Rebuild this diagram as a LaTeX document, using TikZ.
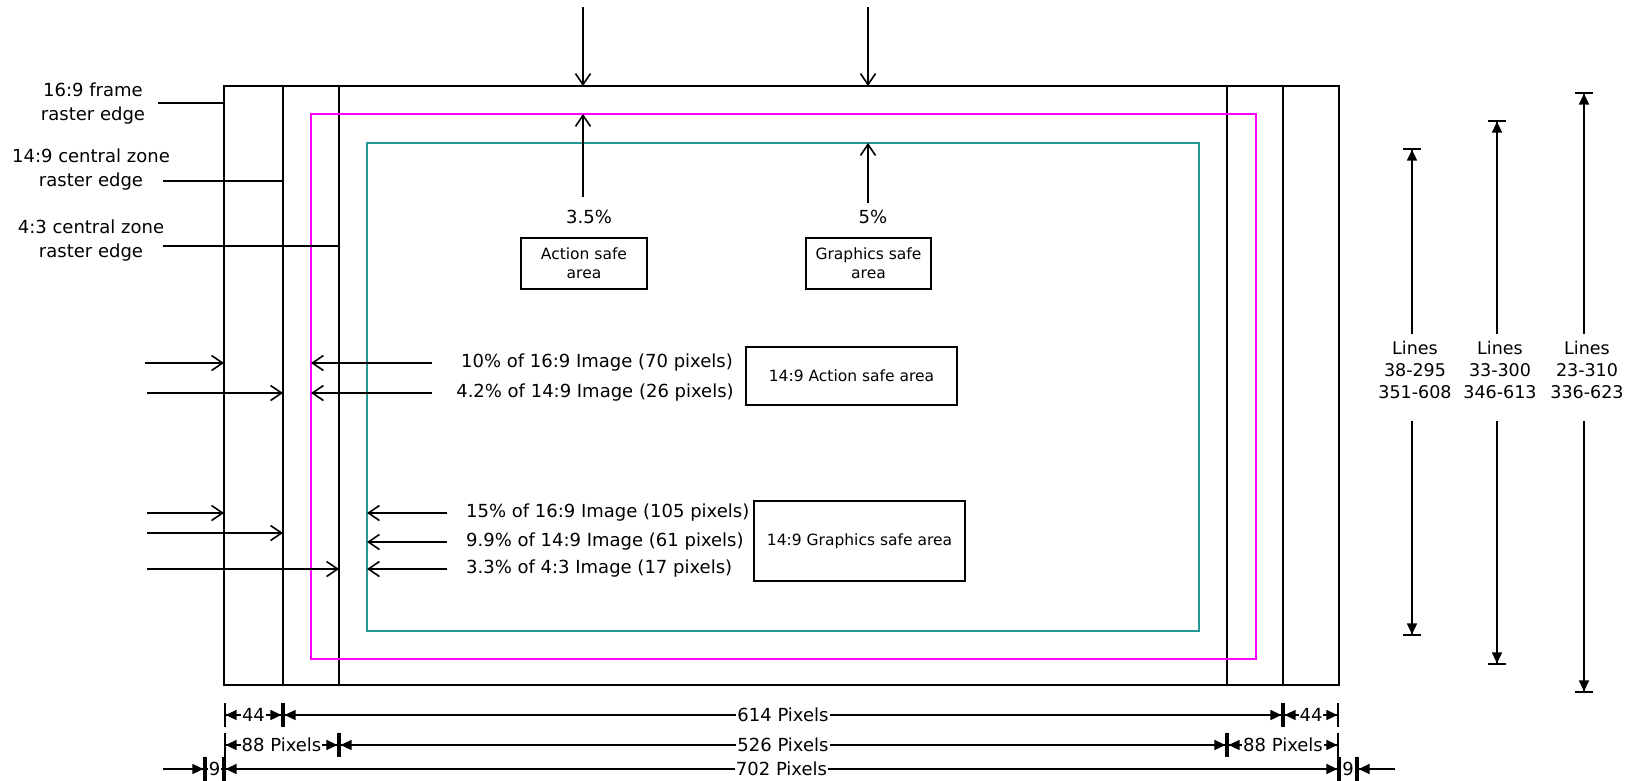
\documentclass[tikz,border=0pt]{standalone}
\usepackage{fontspec}
\setmainfont{DejaVu Sans}
\usetikzlibrary{arrows.meta,calc,positioning}
\definecolor{safemag}{RGB}{255,0,255}
\definecolor{safeteal}{RGB}{40,150,150}
\tikzset{
	edge/.style={line width=1.6pt},
	barb/.style={edge,-{Straight Barb[length=11pt,width=15pt]}},
	dim/.style={edge,{Bar[width=24pt]Triangle[length=11pt,width=10pt]}-{Triangle[length=11pt,width=10pt]Bar[width=24pt]}},
	dimv/.style={edge,-{Triangle[length=11pt,width=10pt]Bar[width=18pt]}},
	dimlabel/.style={fill=white,inner sep=1pt},
	note/.style={inner sep=0pt},
	safebox/.style={draw,line width=1.6pt,align=center,inner sep=2pt,font=\fontsize{15.5}{19}\selectfont}
}

\begin{document}
\begin{tikzpicture}[x=1pt,y=-1pt,every node/.style={font=\fontsize{18}{24}\selectfont}]
\useasboundingbox (0,0) rectangle (1627,780);

% raster edges: 16:9 frame, 14:9 and 4:3 central zones
\coordinate (f169) at (224,86);
\coordinate (g169) at (1339,685);
\coordinate (c149) at (283,86);
\coordinate (c43) at (339,86);
\draw[edge] (f169) rectangle (g169);
\foreach \x in {283,339,1227,1283}
	\draw[edge] (\x,86) -- (\x,685);

% action safe and graphics safe areas
\coordinate (mag) at (311,114);
\coordinate (teal) at (367,143);
\draw[edge,safemag] (mag) rectangle (1256,659);
\draw[edge,safeteal] (teal) rectangle (1199,631);

% edge labels on the left
\node[align=center] (lbl169) at (93,104) {16:9 frame\\raster edge};
\node[align=center] (lbl149) at (91,170) {14:9 central zone\\raster edge};
\node[align=center] (lbl43) at (91,241) {4:3 central zone\\raster edge};
\coordinate (e169) at (158,103);
\coordinate (e149) at (163,181);
\coordinate (e43) at (163,246);
\draw[edge] (e169) -- (e169 -| f169);
\draw[edge] (e149) -- (e149 -| c149);
\draw[edge] (e43) -- (e43 -| c43);

% top margins
\node (pa) at (589,217) {3.5\%};
\node (pg) at (873,217) {5\%};
\coordinate (da) at (583,7);
\coordinate (dg) at (868,7);
\draw[barb] (da) -- (da |- f169);
\draw[barb] (dg) -- (dg |- f169);
\draw[barb] (583,197) -- (da |- mag);
\draw[barb] (868,203) -- (dg |- teal);
\node[safebox,minimum width=126pt,minimum height=51pt] (asa) at (584,263.5) {Action safe\\area};
\node[safebox,minimum width=125pt,minimum height=51pt] (gsa) at (868.5,263.5) {Graphics safe\\area};

% 14:9 action safe
\node[note] (t10) at (597,363) {10\% of 16:9 Image (70 pixels)};
\node[note] (t42) at (595,393) {4.2\% of 14:9 Image (26 pixels)};
\node[safebox,minimum width=211pt,minimum height=58pt] (asa149) at (851.5,376) {14:9 Action safe area};
\draw[barb] ([xshift=-29pt]t10.west) -- (t10.west -| mag);
\draw[barb] ([xshift=-24pt]t42.west) -- (t42.west -| mag);
\draw[barb] (145,363) -- (f169 |- t10.west);
\draw[barb] (147,393) -- (c149 |- t42.west);

% 14:9 graphics safe
\node[note,anchor=west] (t15) at (466,513) {15\% of 16:9 Image (105 pixels)};
\node[note,anchor=west] (t99) at (466,542) {9.9\% of 14:9 Image (61 pixels)};
\node[note,anchor=west] (t33) at (466,569) {3.3\% of 4:3 Image (17 pixels)};
\node[safebox,minimum width=211pt,minimum height=80pt] (gsa149) at (859.5,541) {14:9 Graphics safe area};
\draw[barb] ([xshift=-19pt]t15.west) -- (t15.west -| teal);
\draw[barb] ([xshift=-19pt]t99.west) -- (t99.west -| teal);
\draw[barb] ([xshift=-19pt]t33.west) -- (t33.west -| teal);
\draw[barb] (147,513) -- (f169 |- 0,513);
\draw[barb] (147,533) -- (c149 |- 0,533);
\draw[barb] (147,569) -- (c43 |- 0,569);

% line numbers on the right
\foreach \x/\t/\b/\n/\m in {1412/148/636/38-295/351-608, 1497/120/665/33-300/346-613, 1584/92/693/23-310/336-623}{
	\node[align=center,font=\fontsize{17.5}{22}\selectfont] (ln\x) at (\x+3,370) {Lines\\\n\\\m};
	\draw[dimv] (\x,334) -- (\x,\t);
	\draw[dimv] (\x,421) -- (\x,\b);
}

% widths in pixels
\draw[dim] (224,715) -- node[dimlabel] (w44a) {44} (283,715);
\draw[dim] (283,715) -- node[dimlabel] (w614) {614 Pixels} (1283,715);
\draw[dim] (1283,715) -- node[dimlabel] (w44b) {44} (1339,715);

\draw[dim] (224,745) -- node[dimlabel] (w88a) {88 Pixels} (339,745);
\draw[dim] (339,745) -- node[dimlabel] (w526) {526 Pixels} (1227,745);
\draw[dim] (1227,745) -- node[dimlabel] (w88b) {88 Pixels} (1339,745);

\draw[edge,-{Triangle[length=11pt,width=10pt]Bar[width=24pt]}] (163,769) -- (205,769);
\draw[edge,{Bar[width=24pt]}-{Bar[width=24pt]}] (205,769) -- node[dimlabel] (w9a) {9} (224,769);
\draw[dim] (224,769) -- node[dimlabel] (w702) {702 Pixels} (1339,769);
\draw[edge,{Bar[width=24pt]}-{Bar[width=24pt]}] (1339,769) -- node[dimlabel] (w9b) {9} (1357,769);
\draw[edge,{Bar[width=24pt]Triangle[length=11pt,width=10pt]}-] (1357,769) -- (1395,769);
\end{tikzpicture}
\end{document}
